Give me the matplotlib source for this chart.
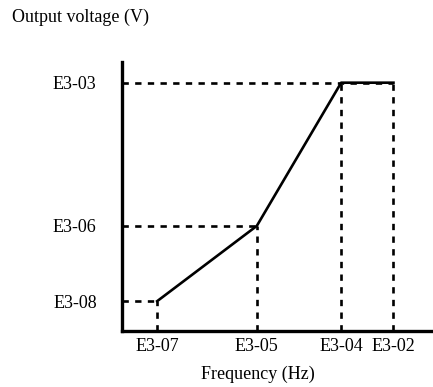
import matplotlib.pyplot as plt

# V/f pattern points (arbitrary units)
freq_labels = ['E3-07', 'E3-05', 'E3-04', 'E3-02']
freq = [1.14, 4.34, 7.05, 8.73]
volt_labels = ['E3-08', 'E3-06', 'E3-03']
volt = [1.1, 3.9, 9.23]

# curve: (E3-07,E3-08) -> (E3-05,E3-06) -> (E3-04,E3-03) -> (E3-02,E3-03)
curve_x = freq
curve_y = [volt[0], volt[1], volt[2], volt[2]]

plt.rcParams['font.family'] = ['Liberation Serif', 'DejaVu Serif']

fig = plt.figure(figsize=(4.33, 3.87), dpi=100)
ax = fig.add_axes([121.7 / 433, 1 - 330.7 / 387, (433 - 121.7) / 433, (330.7 - 62) / 387])
ax.set_xlim(0, 10)
ax.set_ylim(0, 10)

dash = (0, (2.4, 2.4))
# horizontal guides from the axis to each point
for xv, yv in [(curve_x[0], curve_y[0]), (curve_x[1], curve_y[1]), (curve_x[3], curve_y[3])]:
    ax.plot([0, xv], [yv, yv], color='black', lw=1.9, linestyle=dash)
# vertical guides down to the axis
for xv, yv in zip(curve_x, curve_y):
    ax.plot([xv, xv], [0, yv], color='black', lw=1.9, linestyle=dash)

ax.plot(curve_x, curve_y, color='black', lw=1.9)

for s in ['top', 'right']:
    ax.spines[s].set_visible(False)
for s in ['left', 'bottom']:
    ax.spines[s].set_linewidth(2.4)

ax.set_xticks(freq, freq_labels)
ax.set_yticks(volt, volt_labels)
ax.tick_params(length=0, labelsize=13)
ax.tick_params(axis='x', pad=5)
ax.tick_params(axis='y', pad=18)

fig.text(12 / 433, 1 - 17 / 387, 'Output voltage (V)', fontsize=13, va='center', ha='left')
fig.text(258 / 433, 1 - 374 / 387, 'Frequency (Hz)', fontsize=13, va='center', ha='center')

fig.savefig('out.png', dpi=100)
